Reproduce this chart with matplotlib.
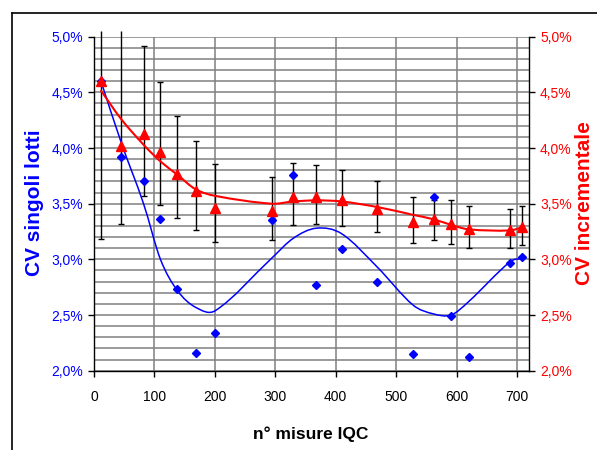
import matplotlib
matplotlib.use("Agg")
import matplotlib.pyplot as plt
from matplotlib.path import Path
from matplotlib.patches import PathPatch
from matplotlib.lines import Line2D
from matplotlib.ticker import MultipleLocator, FixedLocator
import numpy as np

plt.rcParams['font.family'] = ['Liberation Sans', 'DejaVu Sans']

# ---- data ----
n_misure = [11, 45, 82, 110, 138, 168, 201, 294, 330, 368, 410, 469, 528, 562, 591, 620, 689, 709]
cv_singoli = [4.60, 3.92, 3.70, 3.36, 2.73, 2.16, 2.34, 3.35, 3.76, 2.77, 3.09, 2.80, 2.15, 3.56, 2.49, 2.12, 2.97, 3.02]
cv_incrementale = [4.60, 4.02, 4.13, 3.96, 3.77, 3.61, 3.46, 3.43, 3.56, 3.56, 3.53, 3.45, 3.34, 3.36, 3.32, 3.27, 3.26, 3.29]
bar_top = [5.05, 5.05, 4.92, 4.59, 4.29, 4.06, 3.86, 3.74, 3.87, 3.85, 3.80, 3.70, 3.56, 3.53, 3.53, 3.48, 3.45, 3.48]
bar_bottom = [3.18, 3.32, 3.57, 3.49, 3.37, 3.26, 3.16, 3.17, 3.31, 3.32, 3.30, 3.25, 3.15, 3.17, 3.14, 3.10, 3.10, 3.13]
trend_singoli = [4.61, 4.05, 3.50, 3.00, 2.72, 2.57, 2.54, 3.01, 3.19, 3.28, 3.23, 2.93, 2.59, 2.51, 2.50, 2.62, 2.98, 3.01]
trend_incrementale = [4.52, 4.26, 4.03, 3.88, 3.76, 3.63, 3.57, 3.50, 3.52, 3.53, 3.52, 3.47, 3.40, 3.36, 3.31, 3.27, 3.26, 3.29]
x_ticks = [0, 100, 200, 300, 400, 500, 600, 700]
y_ticks = [2.0, 2.5, 3.0, 3.5, 4.0, 4.5, 5.0]
y_tick_labels = ["2,0%", "2,5%", "3,0%", "3,5%", "4,0%", "4,5%", "5,0%"]

BLUE = '#0000FF'
RED = '#FF0000'

W, H = 597, 450
fig = plt.figure(figsize=(W / 100, H / 100), dpi=100)
L, R, T, B = 94, 529, 36.7, 370.7
ax = fig.add_axes([L / W, 1 - B / H, (R - L) / W, (B - T) / H])

ax.set_xlim(0, 720)
ax.set_ylim(2.0, 5.0)


def smooth_path(xs, ys):
    """Smoothed line rendered as cubic Bezier (Hermite) segments through the points."""
    xs = np.asarray(xs, float)
    ys = np.asarray(ys, float)
    n = len(xs)
    d = np.zeros(n)
    for i in range(n):
        a = max(i - 1, 0)
        b = min(i + 1, n - 1)
        d[i] = (ys[b] - ys[a]) / (xs[b] - xs[a])
    verts = [(xs[0], ys[0])]
    codes = [Path.MOVETO]
    for i in range(n - 1):
        h = xs[i + 1] - xs[i]
        verts += [(xs[i] + h / 3, ys[i] + d[i] * h / 3),
                  (xs[i + 1] - h / 3, ys[i + 1] - d[i + 1] * h / 3),
                  (xs[i + 1], ys[i + 1])]
        codes += [Path.CURVE4] * 3
    return Path(verts, codes)


# gridlines
ax.yaxis.set_major_locator(FixedLocator(y_ticks))
ax.yaxis.set_minor_locator(MultipleLocator(0.1))
ax.xaxis.set_major_locator(FixedLocator(x_ticks))
ax.grid(True, which='major', axis='both', color='#808080', lw=1.1, zorder=0)
ax.grid(True, which='minor', axis='y', color='#808080', lw=1.1, zorder=0)
ax.set_axisbelow(True)

# error bars
x = np.array(n_misure)
red = np.array(cv_incrementale)
yerr = [red - np.array(bar_bottom), np.array(bar_top) - red]
eb = ax.errorbar(x, red, yerr=yerr, fmt='none', ecolor='black', elinewidth=1.0,
                 capsize=2.5, capthick=1.0, zorder=2)
for bl in eb[2]:
    bl.set_clip_on(False)

# smoothed curves
ax.add_patch(PathPatch(smooth_path(n_misure, trend_singoli), transform=ax.transData,
                       fill=False, edgecolor=BLUE, lw=1.1, zorder=3))
ax.add_patch(PathPatch(smooth_path(n_misure, trend_incrementale), transform=ax.transData,
                       fill=False, edgecolor=RED, lw=1.5, zorder=3))

# markers
ax.plot(n_misure, cv_singoli, linestyle='none', marker='D', ms=4.5, color=BLUE, zorder=4)
ax.plot(n_misure, cv_incrementale, linestyle='none', marker='^', ms=6.5, color=RED, zorder=5)

# axes styling
ax.spines['top'].set_visible(False)
ax.spines['right'].set_visible(False)
for s in ('left', 'bottom'):
    ax.spines[s].set_color('black')
    ax.spines[s].set_linewidth(1.0)
ax.set_yticklabels(y_tick_labels)
ax.tick_params(axis='y', which='major', direction='out', length=4, width=1, pad=4,
               labelsize=10, labelcolor=BLUE, color='black')
ax.tick_params(axis='y', which='minor', length=0)
ax.tick_params(axis='x', which='major', direction='out', length=4, width=1, pad=10,
               labelsize=10, labelcolor='black', color='black')

ax2 = ax.twinx()
ax2.set_ylim(2.0, 5.0)
ax2.yaxis.set_major_locator(FixedLocator(y_ticks))
ax2.set_yticklabels(y_tick_labels)
ax2.tick_params(axis='y', direction='out', length=4, width=1, pad=4,
                labelsize=10, labelcolor=RED, color='black')
ax2.spines['top'].set_visible(False)
ax2.spines['left'].set_visible(False)
ax2.spines['bottom'].set_visible(False)
ax2.spines['right'].set_color('black')
ax2.spines['right'].set_linewidth(1.0)

# axis titles
fig.text(35 / W, 1 - 203 / H, "CV singoli lotti", rotation=90, color=BLUE,
         fontsize=15, fontweight='bold', ha='center', va='center')
fig.text(585 / W, 1 - 203 / H, "CV incrementale", rotation=90, color=RED,
         fontsize=15, fontweight='bold', ha='center', va='center')
fig.text(311 / W, 1 - 434 / H, "n° misure IQC", color='black',
         fontsize=12.5, fontweight='bold', ha='center', va='center')

# outer chart frame (top and left edges visible)
fig.add_artist(Line2D([12 / W, 12 / W], [0, 1 - 13 / H], transform=fig.transFigure,
                      color='black', lw=1.2))
fig.add_artist(Line2D([12 / W, 1], [1 - 13 / H, 1 - 13 / H], transform=fig.transFigure,
                      color='black', lw=1.2))

fig.savefig("out.png", dpi=100)
